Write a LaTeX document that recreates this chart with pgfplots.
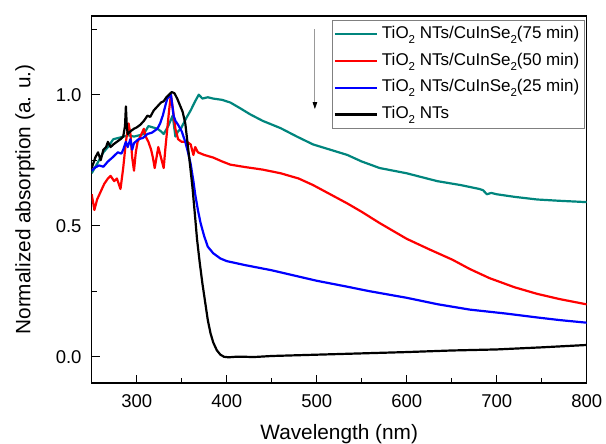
\documentclass[border=0pt]{standalone}
\usepackage{fontspec}
\setmainfont{Liberation Sans}
\usepackage{pgfplots}
\pgfplotsset{compat=1.18}
\usetikzlibrary{arrows.meta}
\definecolor{cistealc}{RGB}{0,133,125}
\newcommand\sub[1]{\raisebox{-0.3em}{\fontsize{11.5}{12}\selectfont #1}}

\begin{document}
\begin{tikzpicture}
\useasboundingbox (-91.7pt,-61pt) rectangle (514.3pt,383pt);
\begin{axis}[
  scale only axis, width=495pt, height=367pt,
  xmin=250, xmax=800, ymin=-0.1, ymax=1.3,
  xtick={300,400,...,800}, minor xtick={350,450,550,650,750},
  ytick={0,0.5,1}, minor ytick={0.25,0.75,1.25},
  tick align=inside, tick pos=left,
  major tick length=8pt, minor tick length=5pt,
  every tick/.style={black, line width=1pt},
  axis line style={line width=1.2pt},
  /pgf/number format/assume math mode=true,
  ticklabel style={font=\fontsize{18.5}{20}\selectfont, inner sep=0pt},
  xticklabel style={anchor=north, yshift=-11pt},
  yticklabel style={anchor=east, xshift=-10pt,
    /pgf/number format/fixed, /pgf/number format/fixed zerofill,
    /pgf/number format/precision=1},
  xlabel={Wavelength (nm)},
  ylabel={Normalized absorption (a. u.)},
  label style={font=\fontsize{20.8}{24}\selectfont},
  xlabel style={at={(axis description cs:0.5,0)}, anchor=base, yshift=-57pt},
  ylabel style={at={(axis description cs:-0.1347,0.5)}, anchor=center},
  legend style={at={(axis description cs:1,1)}, anchor=north east,
    xshift=-2pt, yshift=-4pt, draw=gray, line width=0.8pt,
    font=\fontsize{17}{20}\selectfont, inner xsep=1pt, inner ysep=4.5pt,
    row sep=7.7pt,
    nodes={text height=12.5pt, text depth=4.5pt, inner ysep=1pt, inner xsep=4pt},
    cells={anchor=west}},
  legend image code/.code={\draw[#1] (0pt,0pt) -- (42pt,0pt);},
  every axis plot/.append style={line width=2.2pt, line join=round},
]
\addplot[cistealc] coordinates {
(250,0.70) (255,0.73) (263,0.78) (268,0.80) (274,0.83) (280,0.835) (285,0.84)
(291,0.845) (297,0.84) (303,0.845) (308,0.85) (313,0.88) (318,0.875) (323,0.87)
(327,0.86) (330,0.85) (335,0.88) (340,0.92) (343,0.84) (346,0.86) (349,0.87)
(355,0.91) (360,0.94) (365,0.975) (369,1.00) (373,0.985) (379,0.99) (385,0.985)
(395,0.98) (404,0.97) (415,0.948) (426,0.925) (440,0.90) (460,0.872) (478,0.84)
(496,0.81) (515,0.79) (534,0.77) (550,0.745) (570,0.72) (600,0.70) (634,0.67)
(660,0.655) (681,0.64) (685,0.635) (689,0.62) (694,0.625) (700,0.62) (720,0.61)
(745,0.60) (770,0.595) (800,0.59)
};
\addlegendentry{TiO\sub{2} NTs/CuInSe\sub{2}(75 min)}
\addplot[red] coordinates {
(250,0.62) (253,0.56) (256,0.60) (260,0.63) (264,0.66) (268,0.68) (271,0.69)
(275,0.67) (278,0.68) (282,0.64) (285,0.72) (288,0.82) (291,0.89) (293,0.85)
(295,0.76) (297,0.71) (299,0.78) (301,0.82) (304,0.84) (308,0.87) (310,0.84)
(313,0.82) (316,0.79) (318,0.76) (320,0.72) (322,0.76) (324,0.80) (327,0.76)
(330,0.72) (332,0.80) (334,0.87) (336,0.94) (338,1.00) (340,0.95) (343,0.87)
(346,0.83) (350,0.82) (356,0.82) (360,0.81) (363,0.77) (365,0.80) (368,0.78)
(375,0.77) (385,0.76) (395,0.745) (404,0.733) (420,0.724) (440,0.714) (460,0.70)
(480,0.68) (496,0.655) (515,0.62) (534,0.585) (550,0.553) (570,0.51) (600,0.45)
(625,0.41) (651,0.37) (670,0.335) (692,0.30) (720,0.265) (745,0.24) (770,0.22)
(800,0.20)
};
\addlegendentry{TiO\sub{2} NTs/CuInSe\sub{2}(50 min)}
\addplot[blue] coordinates {
(250,0.71) (253,0.72) (258,0.73) (263,0.725) (268,0.745) (273,0.76) (279,0.78)
(283,0.775) (285,0.79) (288,0.82) (290,0.80) (293,0.83) (295,0.79) (297,0.815)
(302,0.83) (307,0.835) (312,0.85) (317,0.855) (323,0.87) (326,0.89) (329,0.92)
(332,0.96) (334,0.985) (338,1.00) (341,0.92) (343,0.90) (346,0.885) (350,0.86)
(354,0.82) (357,0.78) (360,0.735) (363,0.67) (365,0.62) (368,0.56) (371,0.51)
(375,0.46) (379,0.42) (385,0.395) (393,0.375) (400,0.365) (420,0.35) (450,0.33)
(475,0.31) (500,0.29) (530,0.27) (559,0.25) (600,0.225) (635,0.20) (670,0.18)
(710,0.165) (745,0.15) (770,0.14) (800,0.13)
};
\addlegendentry{TiO\sub{2} NTs/CuInSe\sub{2}(25 min)}
\addplot[black] coordinates {
(250,0.72) (252,0.74) (254,0.76) (257,0.78) (260,0.75) (263,0.79) (266,0.80)
(268,0.82) (271,0.80) (274,0.81) (278,0.82) (282,0.83) (285,0.84) (287,0.88)
(288,0.955) (289,0.88) (290,0.85) (293,0.86) (297,0.87) (300,0.875) (304,0.885)
(308,0.90) (312,0.92) (315,0.915) (319,0.94) (323,0.955) (327,0.97) (330,0.975)
(333,0.99) (336,1.00) (339,1.01) (342,1.005) (345,0.985) (348,0.96) (351,0.935)
(354,0.89) (356,0.83) (359,0.74) (362,0.645) (365,0.53) (367,0.45) (370,0.36)
(373,0.28) (376,0.21) (379,0.14) (382,0.09) (385,0.055) (389,0.025) (393,0.008)
(397,0.0) (402,-0.002) (410,0.0) (420,0.0) (430,-0.001) (450,0.003) (500,0.008)
(550,0.013) (600,0.018) (650,0.024) (700,0.028) (750,0.036) (800,0.045)
};
\addlegendentry{TiO\sub{2} NTs}
\draw[gray!80, line width=0.8pt, -{Triangle[black, length=7pt, width=4.5pt]}]
  (axis cs:498,1.25) -- (axis cs:498,0.945);
\end{axis}
\end{tikzpicture}
\end{document}
